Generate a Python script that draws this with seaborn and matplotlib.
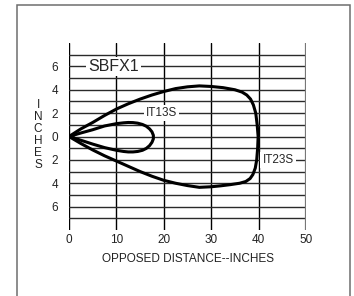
import numpy as np
import seaborn as sns
import matplotlib.pyplot as plt
from matplotlib.patches import Rectangle

# beam pattern outlines (x: opposed distance, y: inches)
outer_x = [0, 2.5, 5, 7.5, 10, 12.5, 15, 17.5, 20, 22.5, 25, 27.5, 30, 32.5, 35, 36.5,
           37.5, 38.3, 38.9, 39.4, 39.7, 39.9, 39.8, 39.6, 39.3, 38.8, 38.2, 37.3,
           36, 34, 32, 30, 27.5, 25, 22.5, 20, 17.5, 15, 12.5, 10, 7.5, 5, 2.5, 0]
outer_y = [0, 0.65, 1.2, 1.8, 2.35, 2.8, 3.2, 3.55, 3.85, 4.1, 4.25, 4.33, 4.28, 4.18,
           4.0, 3.8, 3.55, 3.2, 2.7, 2.0, 1.0, 0, -1.0, -2.0, -2.7, -3.25, -3.6, -3.85,
           -4.0, -4.12, -4.22, -4.3, -4.35, -4.2, -4.0, -3.75, -3.4, -3.0, -2.55,
           -2.1, -1.65, -1.15, -0.6, 0]
inner_x = [0, 2.5, 5, 7.5, 10, 11.5, 12.5, 13.5, 14.5, 15.5, 16.3, 17, 17.5, 17.8,
           17.8, 17.5, 17, 16.3, 15.5, 14.5, 13.5, 12.5, 11.5, 10, 7.5, 5, 2.5, 0]
inner_y = [0, 0.3, 0.58, 0.9, 1.1, 1.17, 1.2, 1.19, 1.14, 1.03, 0.88, 0.65, 0.4, 0.1,
           -0.2, -0.5, -0.78, -1.02, -1.18, -1.28, -1.32, -1.32, -1.28, -1.18, -0.95,
           -0.65, -0.32, 0]

x_ticks = [0, 10, 20, 30, 40, 50]
y_ticks = [6, 4, 2, 0, -2, -4, -6]
y_labels = ["6", "4", "2", "0", "2", "4", "6"]

sns.set_style("white")
plt.rcParams['font.family'] = ['Liberation Sans', 'DejaVu Sans']

fig = plt.figure(figsize=(3.54, 2.96), dpi=100)
fig.patches.append(Rectangle((17 / 354, -0.05), 333 / 354, 1.05 - 5 / 296,
                             transform=fig.transFigure, fill=False,
                             edgecolor='#6e6e6e', lw=1.1))
ax = fig.add_axes([69 / 354, 1 - 230 / 296, 237 / 354, 187 / 296])

sns.lineplot(x=outer_x, y=outer_y, sort=False, estimator=None, color='black',
             lw=2.2, ax=ax, zorder=5)
sns.lineplot(x=inner_x, y=inner_y, sort=False, estimator=None, color='black',
             lw=2.2, ax=ax, zorder=5)

ax.set_xlim(0, 50)
ax.set_ylim(-8, 8)
ax.set_xticks(x_ticks)
ax.set_yticks(y_ticks)
ax.set_yticklabels(y_labels)
ax.set_yticks(np.arange(-7, 8, 2), minor=True)
ax.grid(True, which='both', axis='y', color='#2a2a2a', lw=1.0)
ax.grid(True, which='major', axis='x', color='black', lw=1.0)
ax.tick_params(length=0, labelsize=8.5, colors='#222222')
ax.tick_params(axis='y', pad=8)
ax.tick_params(axis='x', pad=3)
for s in ax.spines.values():
    s.set_visible(False)
ax.axvline(50, color='#777777', lw=1.6)

ax.set_xlabel('OPPOSED DISTANCE--INCHES', fontsize=8.5, color='#222222', labelpad=5)
fig.text(38 / 354, 1 - 135 / 296, 'I\nN\nC\nH\nE\nS', fontsize=8.5, ha='center',
         va='center', linespacing=1.02, color='#222222')

box = dict(facecolor='white', edgecolor='none', pad=1.5)
ax.text(9.4, 6, 'SBFX1', fontsize=11.5, ha='center', va='center', bbox=box, zorder=6)
ax.text(19.5, 2, 'IT13S', fontsize=8.5, ha='center', va='center', bbox=box, zorder=6)
ax.text(44.1, -2, 'IT23S', fontsize=8.5, ha='center', va='center', bbox=box, zorder=6)

fig.savefig('out.png', dpi=100)
